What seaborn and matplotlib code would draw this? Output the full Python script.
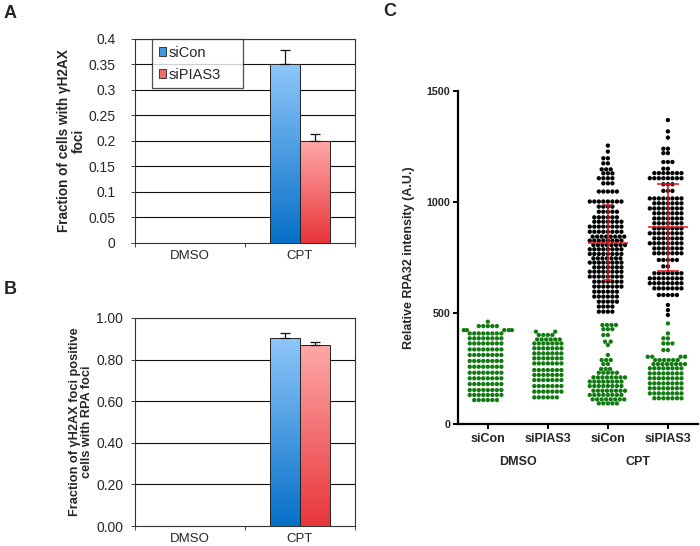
import numpy as np
import pandas as pd
import matplotlib
matplotlib.use("Agg")
import matplotlib.pyplot as plt
import matplotlib.transforms as mtransforms
from matplotlib.colors import LinearSegmentedColormap
from matplotlib.patches import Patch
import seaborn as sns

# ---------------- data ----------------
treatments = ["DMSO", "CPT"]
sirnas = ["siCon", "siPIAS3"]

# Panel A: fraction of cells with gH2AX foci
a_sicon = [0.0, 0.35]
a_sipias3 = [0.0, 0.20]
a_sicon_err = [0.0, 0.028]
a_sipias3_err = [0.0, 0.013]
a_yticks = [0, 0.05, 0.1, 0.15, 0.2, 0.25, 0.3, 0.35, 0.4]
a_yticklabels = ["0", "0.05", "0.1", "0.15", "0.2", "0.25", "0.3", "0.35", "0.4"]

# Panel B: fraction of gH2AX positive cells with RPA foci
b_sicon = [0.0, 0.902]
b_sipias3 = [0.0, 0.872]
b_sicon_err = [0.0, 0.027]
b_sipias3_err = [0.0, 0.014]
b_yticks = [0.0, 0.2, 0.4, 0.6, 0.8, 1.0]

# Panel C: relative RPA32 intensity, read as (value band, number of cells)
c_groups = ["DMSO siCon", "DMSO siPIAS3", "CPT siCon", "CPT siPIAS3"]
c_ticklabels = ["siCon", "siPIAS3", "siCon", "siPIAS3"]
c_yticks = [0, 500, 1000, 1500]

dmso_sicon_green_vals = [461, 441, 423, 408, 386, 363, 336, 311, 284, 258, 231, 206, 180, 153, 131, 108]
dmso_sicon_green_counts = [1, 5, 5, 8, 8, 8, 8, 8, 8, 8, 8, 8, 8, 8, 8, 6]

dmso_sipias3_green_vals = [416, 401, 381, 363, 341, 318, 296, 273, 243, 221, 198, 171, 146, 120]
dmso_sipias3_green_counts = [2, 4, 6, 7, 7, 7, 7, 7, 7, 7, 7, 7, 7, 6]

cpt_sicon_green_vals = [446, 427, 401, 371, 356, 311, 288, 270, 248, 231, 210, 191, 171, 150, 131, 111, 93]
cpt_sicon_green_counts = [4, 3, 2, 2, 1, 1, 3, 2, 3, 5, 8, 8, 8, 8, 8, 8, 5]

cpt_sipias3_green_vals = [453, 408, 386, 363, 333, 303, 288, 270, 251, 228, 206, 183, 161, 138, 116]
cpt_sipias3_green_counts = [1, 1, 2, 3, 2, 4, 6, 8, 8, 8, 8, 8, 8, 8, 7]

cpt_sicon_black_vals = [1254, 1227, 1197, 1174, 1147, 1129, 1107, 1084, 1047, 1002, 979, 956, 931,
                        911, 889, 866, 844, 826, 806, 787, 766, 746, 727, 706, 686, 664, 641, 619,
                        596, 574, 551, 529, 506]
cpt_sicon_black_counts = [1, 1, 2, 2, 3, 3, 4, 3, 5, 8, 4, 5, 6, 7, 8, 8, 8, 8, 8, 8, 8, 7, 8, 7,
                          8, 8, 7, 7, 6, 6, 5, 4, 4]

cpt_sipias3_black_vals = [1369, 1318, 1290, 1240, 1220, 1180, 1150, 1130, 1107, 1080, 1050, 1016, 994,
                          971, 949, 926, 904, 881, 859, 836, 814, 791, 769, 739, 710, 679, 656, 634,
                          611, 581, 536, 513, 491]
cpt_sipias3_black_counts = [1, 1, 1, 2, 2, 3, 2, 7, 8, 3, 3, 8, 7, 8, 7, 7, 7, 7, 8, 7, 8, 7, 7, 5,
                            2, 7, 8, 8, 7, 5, 1, 1, 1]

c_cpt_means = [817, 886]
c_cpt_sd = [170, 195]

# ---------------- style ----------------
sns.set_theme(style="white")
plt.rcParams["font.family"] = ["Liberation Sans", "DejaVu Sans"]

blue_mid, red_mid = "#3f95e8", "#f26a6a"
blue_cmap = LinearSegmentedColormap.from_list("b", ["#0570c8", "#8ec6fb"])
red_cmap = LinearSegmentedColormap.from_list("r", ["#e8353a", "#ffa8a8"])
green = "#117a11"

fig = plt.figure(figsize=(7.0, 5.46), dpi=100)
axA = fig.add_axes([0.1929, 0.555, 0.3143, 0.3736])
axB = fig.add_axes([0.1929, 0.0366, 0.3143, 0.381])
axC = fig.add_axes([0.654, 0.2234, 0.343, 0.610])


def bar_panel(ax, sicon, sipias3, sicon_err, sipias3_err, yticks, yticklabels, ylabel, ymax,
              ypad, ylabel_size, ylabel_pad):
    df = pd.DataFrame({
        "treatment": treatments * 2,
        "sirna": [sirnas[0]] * 2 + [sirnas[1]] * 2,
        "value": list(sicon) + list(sipias3),
    })
    sns.barplot(data=df, x="treatment", y="value", hue="sirna", order=treatments,
                hue_order=sirnas, palette=[blue_mid, red_mid], width=0.55, gap=0,
                errorbar=None, edgecolor="#222222", linewidth=0.7, legend=False,
                ax=ax, zorder=3)
    errs = [sicon_err, sipias3_err]
    cmaps = [blue_cmap, red_cmap]
    grad = np.linspace(0, 1, 256).reshape(-1, 1)
    for cont, err, cmap in zip(ax.containers, errs, cmaps):
        for patch, e in zip(cont.patches, err):
            x0, y0 = patch.get_x(), patch.get_y()
            w, h = patch.get_width(), patch.get_height()
            if h > 0:
                im = ax.imshow(grad, extent=[x0, x0 + w, y0, y0 + h], origin="lower",
                               cmap=cmap, aspect="auto", zorder=3)
                im.set_clip_path(patch)
                patch.set_facecolor("none")
                patch.set_zorder(4)
                ax.errorbar(x0 + w / 2, h, yerr=[[0], [e]], fmt="none", ecolor="#111111",
                            elinewidth=0.9, capsize=3.5, capthick=0.9, zorder=5)
    ax.set_xlim(-0.5, 1.5)
    ax.set_ylim(0, ymax)
    ax.set_yticks(yticks)
    ax.set_yticklabels(yticklabels, fontsize=10)
    for yv in yticks[1:]:
        ax.axhline(yv, color="#111111", lw=0.8, zorder=1)
    ax.set_xticks([-0.5, 0.5, 1.5])
    ax.set_xticklabels([])
    ax.set_xticks([0, 1], minor=True)
    ax.set_xticklabels(treatments, minor=True, fontsize=9.5)
    ax.tick_params(axis="x", which="major", length=3, width=0.7, direction="out",
                   color="#444444", bottom=True)
    ax.tick_params(axis="x", which="minor", length=0, pad=5)
    ax.tick_params(axis="y", length=3, width=0.7, direction="out", color="#444444",
                   left=True, pad=ypad)
    for s in ax.spines.values():
        s.set_visible(True)
        s.set_color("#333333")
        s.set_linewidth(0.8)
    ax.set_xlabel("")
    ax.set_ylabel(ylabel, fontsize=ylabel_size, fontweight="bold", labelpad=ylabel_pad,
                  linespacing=1.05)


bar_panel(axA, a_sicon, a_sipias3, a_sicon_err, a_sipias3_err, a_yticks, a_yticklabels,
          "Fraction of cells with \u03b3H2AX\nfoci", 0.4, 11.0, 9.8, 2)
bar_panel(axB, b_sicon, b_sipias3, b_sicon_err, b_sipias3_err, b_yticks,
          [f"{v:.2f}" for v in b_yticks],
          "Fraction of \u03b3H2AX foci positive\ncells with RPA foci", 1.0, 5.5, 9.2, 2)

handles = [Patch(facecolor=blue_mid, edgecolor="#222222", lw=0.6),
           Patch(facecolor=red_mid, edgecolor="#222222", lw=0.6)]
leg = axA.legend(handles, sirnas, loc="upper left",
                 bbox_to_anchor=(0.077, 0.745, 0.414, 0.255), mode="expand",
                 borderaxespad=0, fontsize=10.5, frameon=True, fancybox=False,
                 handlelength=0.5, handleheight=0.55, handletextpad=0.2,
                 labelspacing=0.55, borderpad=0.45)
leg.get_frame().set_edgecolor("#222222")
leg.get_frame().set_linewidth(0.9)
leg.set_zorder(10)

# ---------------- Panel C ----------------
rows = []
for grp, vals, counts, status in [
    (c_groups[0], dmso_sicon_green_vals, dmso_sicon_green_counts, "neg"),
    (c_groups[1], dmso_sipias3_green_vals, dmso_sipias3_green_counts, "neg"),
    (c_groups[2], cpt_sicon_green_vals, cpt_sicon_green_counts, "neg"),
    (c_groups[3], cpt_sipias3_green_vals, cpt_sipias3_green_counts, "neg"),
    (c_groups[2], cpt_sicon_black_vals, cpt_sicon_black_counts, "pos"),
    (c_groups[3], cpt_sipias3_black_vals, cpt_sipias3_black_counts, "pos"),
]:
    for v in np.repeat(vals, counts):
        rows.append({"group": grp, "value": float(v), "status": status})
dfc = pd.DataFrame(rows)

sns.swarmplot(data=dfc, x="group", y="value", hue="status", order=c_groups,
              hue_order=["neg", "pos"], palette={"neg": green, "pos": "black"},
              size=3.1, linewidth=0, legend=False, ax=axC, zorder=3)

capsizes = [2.8, 7.9]
for i, (m, sd, cs) in enumerate(zip(c_cpt_means, c_cpt_sd, capsizes)):
    x = 2 + i
    axC.hlines(m, x - 0.33, x + 0.33, color="#e8141c", lw=1.1, zorder=6)
    axC.errorbar(x, m, yerr=sd, fmt="none", ecolor="#e8141c", elinewidth=1.1,
                 capsize=cs, capthick=1.1, zorder=6)

axC.set_xlim(-0.5, 3.5)
axC.set_ylim(0, 1500)
axC.set_yticks(c_yticks)
axC.set_yticklabels([str(v) for v in c_yticks], fontsize=7.7, fontweight="bold")
axC.set_xticks(range(4))
axC.set_xticklabels(c_ticklabels, fontsize=9, fontweight="bold")
axC.tick_params(axis="both", length=3.5, width=1.4, direction="out", color="black",
                left=True, bottom=True, pad=2)
axC.tick_params(axis="x", pad=3)
for s in ["top", "right"]:
    axC.spines[s].set_visible(False)
for s in ["left", "bottom"]:
    axC.spines[s].set_color("black")
    axC.spines[s].set_linewidth(1.6)
axC.set_xlabel("")
axC.set_ylabel("Relative RPA32 intensity (A.U.)", fontsize=9, fontweight="bold", labelpad=8)
trans = mtransforms.blended_transform_factory(axC.transData, axC.transAxes)
axC.text(0.5, -0.114, "DMSO", transform=trans, ha="center", va="center",
         fontsize=9, fontweight="bold")
axC.text(2.5, -0.114, "CPT", transform=trans, ha="center", va="center",
         fontsize=9, fontweight="bold")

# panel letters
fig.text(4 / 700, 1 - 14 / 546, "A", fontsize=13, fontweight="bold", va="center", ha="left")
fig.text(4 / 700, 1 - 290 / 546, "B", fontsize=13, fontweight="bold", va="center", ha="left")
fig.text(383 / 700, 1 - 12 / 546, "C", fontsize=13, fontweight="bold", va="center", ha="left")

fig.savefig("out.png", dpi=100)
